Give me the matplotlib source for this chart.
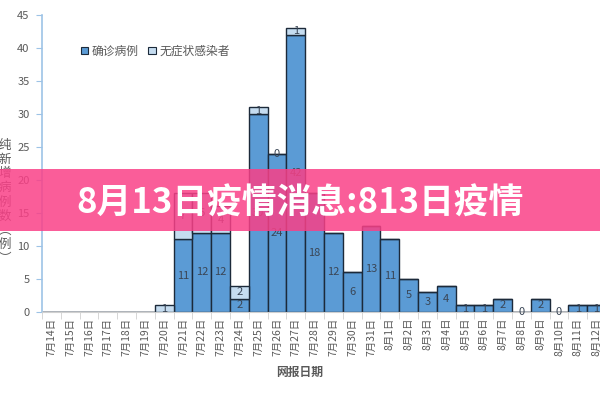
import numpy as np
import matplotlib
matplotlib.use("Agg")
import matplotlib.pyplot as plt
from matplotlib.patches import Patch, Rectangle

plt.rcParams['font.family'] = ['Noto Sans CJK SC', 'DejaVu Sans']

dates = ["7月14日", "7月15日", "7月16日", "7月17日", "7月18日", "7月19日", "7月20日",
         "7月21日", "7月22日", "7月23日", "7月24日", "7月25日", "7月26日", "7月27日",
         "7月28日", "7月29日", "7月30日", "7月31日", "8月1日", "8月2日", "8月3日",
         "8月4日", "8月5日", "8月6日", "8月7日", "8月8日", "8月9日", "8月10日",
         "8月11日", "8月12日"]
nan = np.nan
confirmed = [nan, nan, nan, nan, nan, nan, nan, 11, 12, 12, 2, 30, 24, 42,
             18, 12, 6, 13, 11, 5, 3, 4, 1, 1, 2, 0, 2, 0, 1, 1]
asymptomatic = [nan, nan, nan, nan, nan, nan, 1, 7, 6, 4, 2, 1, 0, 1,
                nan, nan, nan, nan, nan, nan, nan, nan, nan, nan, nan, nan, nan, nan, nan, nan]
series_names = ["确诊病例", "无症状感染者"]
banner_text = "8月13日疫情消息:813日疫情"
x_title = "网报日期"
y_title = "纯新增病例数︵例︶"

c_conf = "#5b9bd5"
c_asym = "#c5dcf0"
edge = "#1c2a3a"
gray = "#595959"

fig = plt.figure(figsize=(6, 4), dpi=100)
ax = fig.add_axes([42/600, 1-312/400, 564/600, (312-15)/400])

x = np.arange(len(dates))
conf = np.array(confirmed, dtype=float)
asym = np.array(asymptomatic, dtype=float)
conf_h = np.nan_to_num(conf)
asym_h = np.nan_to_num(asym)

ax.bar(x, conf_h, width=1.0, color=c_conf, edgecolor=edge, linewidth=1.0, zorder=2)
ax.bar(x, asym_h, bottom=conf_h, width=1.0, color=c_asym, edgecolor=edge, linewidth=1.0, zorder=2)

for i in range(len(x)):
    if not np.isnan(conf[i]):
        ax.text(x[i], conf_h[i]/2, f"{int(conf[i])}", ha="center", va="center",
                fontsize=8, color="#3a4656", zorder=3)
    if not np.isnan(asym[i]):
        ax.text(x[i], conf_h[i] + asym_h[i]/2, f"{int(asym[i])}", ha="center", va="center",
                fontsize=8, color="#3a4656", zorder=3)

ax.set_xlim(-0.5, len(dates) - 0.5)
ax.set_ylim(0, 45)
ax.set_yticks(np.arange(0, 46, 5))
ax.set_xticks(x)
ax.set_xticklabels(dates, rotation=90, fontsize=7.5, color=gray)
ax.set_xticks(np.arange(-0.5, len(dates), 1), minor=True)
ax.tick_params(axis="x", which="major", length=0, pad=4)
ax.tick_params(axis="x", which="minor", length=5, color="#d0d0d0", direction="out")
ax.tick_params(axis="y", length=4, color="#9dc3e6", labelsize=8, labelcolor=gray, pad=5)
for s in ["top", "right"]:
    ax.spines[s].set_visible(False)
ax.spines["left"].set_color("#9dc3e6")
ax.spines["left"].set_linewidth(1.2)
ax.spines["bottom"].set_color("#d0d0d0")

fig.text(300/600, 1-372/400, x_title, ha="center", va="center", fontsize=8.5,
         color=gray, fontweight="bold")
fig.text(5/600, 1-202/400, "\n".join(y_title), ha="center", va="center", fontsize=9,
         color=gray, linespacing=1.12)

handles = [Patch(facecolor=c_conf, edgecolor=edge, linewidth=0.8),
           Patch(facecolor=c_asym, edgecolor=edge, linewidth=0.8)]
leg = ax.legend(handles, series_names, loc="upper left", bbox_to_anchor=(70/600, 1-34/400),
                bbox_transform=fig.transFigure, ncol=2, frameon=False, fontsize=8.5,
                handlelength=0.65, handleheight=0.65, handletextpad=0.3, columnspacing=0.8)
for t in leg.get_texts():
    t.set_color(gray)

fig.patches.append(Rectangle((0, 1-231/400), 1, 62/400, transform=fig.transFigure,
                             facecolor=(0.98, 0.25, 0.53), alpha=0.85, zorder=10,
                             edgecolor="none"))
fig.text(300/600, 1-203/400, banner_text, ha="center", va="center", fontsize=25,
         color="white", fontweight="bold", zorder=11)

fig.savefig("out.png", dpi=100)
